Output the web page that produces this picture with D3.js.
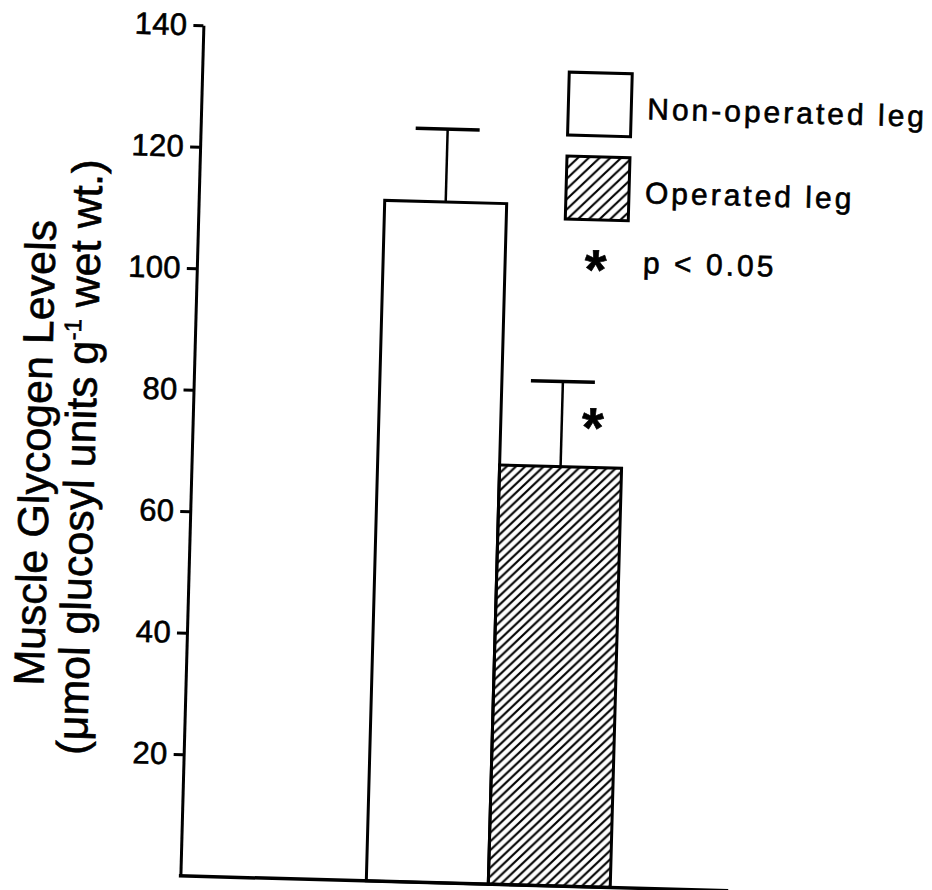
<!DOCTYPE html>
<html><head><meta charset="utf-8">
<script src="https://cdn.jsdelivr.net/npm/d3@7"></script>
<style>
body{margin:0;background:#fff}
svg{display:block}
text{font-family:"Liberation Sans",Arial,Helvetica,sans-serif;fill:#000;stroke:#000;stroke-width:0.6px}
</style>
</head><body>
<svg id="chart" width="932" height="890"></svg>
<script>
// ---- data ----
const categories = ["Non-operated leg", "Operated leg"];
const means = [112, 69];
const errors = [12, 14];
const yTicks = [20, 40, 60, 80, 100, 120, 140];
const sigCategory = ["Operated leg"];
const sigValue = [77.5];
const legendLabels = ["Non-operated leg", "Operated leg"];
const legendNote = "p < 0.05";
const yTitleLine1 = "Muscle Glycogen Levels";
const yTitleLine2 = ["(μmol glucosyl units g", "-1", " wet wt.)"];

// ---- drawing ----
const svg = d3.select("#chart");
svg.append("rect").attr("width", 932).attr("height", 890).attr("fill", "#fff");

const defs = svg.append("defs");
function hatch(id, s) {
  const p = defs.append("pattern").attr("id", id)
    .attr("patternUnits", "userSpaceOnUse").attr("width", s).attr("height", s);
  p.append("path")
    .attr("d", `M-1,1 l2,-2 M0,${s} l${s},${-s} M${s-1},${s+1} l2,-2`)
    .attr("stroke", "#000").attr("stroke-width", 2.1);
}
hatch("hatchBar", 9);
hatch("hatchLeg", 10.5);
const fills = ["#fff", "url(#hatchBar)"];
const legFills = ["#fff", "url(#hatchLeg)"];

const g = svg.append("g").attr("transform", "rotate(1.55,450,450)");

const y = d3.scaleLinear().domain([0, 140]).range([883, 32]);
const x = d3.scaleBand().domain(categories).range([378, 622]).paddingInner(0);
const axisX = 192;

// y axis
const ax = g.append("g").attr("transform", `translate(${axisX},0)`)
  .call(d3.axisLeft(y).tickValues(yTicks).tickSize(10).tickSizeOuter(0).tickPadding(6));
ax.select(".domain").attr("stroke", "#000").attr("stroke-width", 3);
ax.selectAll(".tick line").attr("stroke", "#000").attr("stroke-width", 3);
ax.selectAll(".tick text").style("font-size", "31px").attr("fill", "#000")
  .attr("letter-spacing", 0.3);

// bars
g.selectAll("rect.bar").data(categories).join("rect").attr("class", "bar")
  .attr("x", d => x(d)).attr("width", x.bandwidth())
  .attr("y", (d, i) => y(means[i])).attr("height", (d, i) => y(0) - y(means[i]))
  .attr("fill", (d, i) => fills[i]).attr("stroke", "#000").attr("stroke-width", 3);

// error bars
categories.forEach((c, i) => {
  const cx = x(c) + x.bandwidth() / 2;
  g.append("line").attr("x1", cx).attr("x2", cx)
    .attr("y1", y(means[i])).attr("y2", y(means[i] + errors[i]))
    .attr("stroke", "#000").attr("stroke-width", 2.5);
  g.append("line").attr("x1", cx - 32).attr("x2", cx + 32)
    .attr("y1", y(means[i] + errors[i])).attr("y2", y(means[i] + errors[i]))
    .attr("stroke", "#000").attr("stroke-width", 3.5);
});

// baseline
g.append("line").attr("x1", axisX - 1.5).attr("x2", 740)
  .attr("y1", y(0)).attr("y2", y(0)).attr("stroke", "#000").attr("stroke-width", 3.5);

// significance marker
sigCategory.forEach((c, i) => {
  g.append("text").attr("x", x(c) + x.bandwidth() / 2 + 31).attr("y", y(sigValue[i]) + 31)
    .attr("text-anchor", "middle").style("font-size", "56px").attr("font-weight", "bold").text("*");
});

// legend
const legX = 559, legY0 = 69, legStep = 84, legBox = 63;
legendLabels.forEach((l, i) => {
  g.append("rect").attr("x", legX).attr("y", legY0 + i * legStep)
    .attr("width", legBox).attr("height", legBox)
    .attr("fill", legFills[i]).attr("stroke", "#000").attr("stroke-width", 3);
  g.append("text").attr("x", 638).attr("y", legY0 + i * legStep + 45)
    .style("font-size", "30px").attr("letter-spacing", 3).text(l);
});
g.append("text").attr("x", legX + legBox / 2).attr("y", 254 + 31)
  .attr("text-anchor", "middle").style("font-size", "56px").attr("font-weight", "bold").text("*");
g.append("text").attr("x", 638).attr("y", 268).style("font-size", "30px")
  .attr("letter-spacing", 3).style("white-space", "pre").text(legendNote);

// y title
g.append("text").attr("transform", "translate(50,464) rotate(-90)")
  .attr("text-anchor", "middle").style("font-size", "43px").text(yTitleLine1);
const t2 = g.append("text").attr("transform", "translate(95,467) rotate(-90)")
  .attr("text-anchor", "middle").style("font-size", "43px");
t2.append("tspan").text(yTitleLine2[0]);
t2.append("tspan").style("font-size", "24px").attr("dy", -17).text(yTitleLine2[1]);
t2.append("tspan").attr("dy", 17).text(yTitleLine2[2]);
</script>
</body></html>
